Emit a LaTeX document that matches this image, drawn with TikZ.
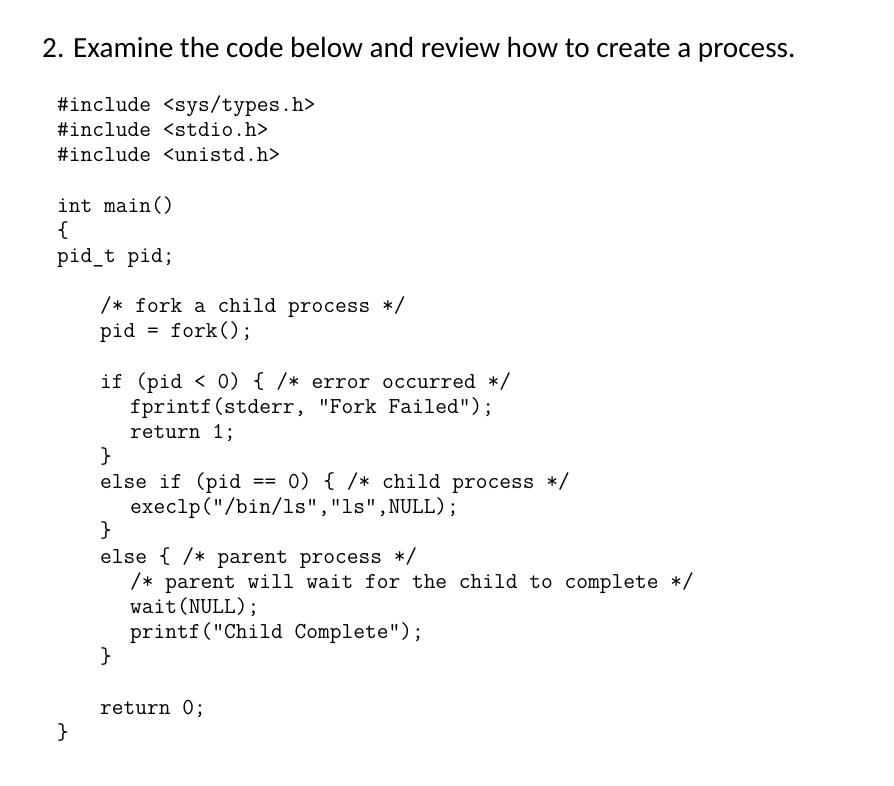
\documentclass[tikz,border=0pt]{standalone}
\usepackage{fontspec}
\newfontfamily\headfont{Carlito}
\begin{document}
\begin{tikzpicture}[x=1pt,y=-1pt,
 code/.style={anchor=base west,inner sep=0pt,font=\ttfamily\fontsize{22.8}{24}\selectfont}]
\useasboundingbox (0,0) rectangle (894,785);
\fill[white] (0,0) rectangle (894,785);
\node[anchor=base west,inner sep=0pt,font=\headfont\fontsize{29.2}{32}\selectfont] (h) at (42,57) {2. Examine the code below and review how to create a process.};
\node[code] (l1) at (57,111) {\#include <sys/types.h>};
\node[code] (l2) at (57,136) {\#include <stdio.h>};
\node[code] (l3) at (57,161) {\#include <unistd.h>};
\node[code] (l4) at (57,212) {int main()};
\node[code] (l5) at (57,237) {\{};
\node[code] (l6) at (57,262) {pid\_t pid;};
\node[code] (l7) at (100,312) {/* fork a child process */};
\node[code] (l8) at (100,337) {pid = fork();};
\node[code] (l9) at (100,388) {if (pid < 0) \{ /* error occurred */};
\node[code] (l10) at (130,413) {fprintf(stderr, "Fork Failed");};
\node[code] (l11) at (130,438) {return 1;};
\node[code] (l12) at (100,463) {\}};
\node[code] (l13) at (100,488) {else if (pid == 0) \{ /* child process */};
\node[code] (l14) at (130,513) {execlp("/bin/ls","ls",NULL);};
\node[code] (l15) at (100,537) {\}};
\node[code] (l16) at (100,563) {else \{ /* parent process */};
\node[code] (l17) at (130,588) {/* parent will wait for the child to complete */};
\node[code] (l18) at (130,613) {wait(NULL);};
\node[code] (l19) at (130,638) {printf("Child Complete");};
\node[code] (l20) at (100,663) {\}};
\node[code] (l21) at (100,714) {return 0;};
\node[code] (l22) at (57,739) {\}};
\end{tikzpicture}
\end{document}
